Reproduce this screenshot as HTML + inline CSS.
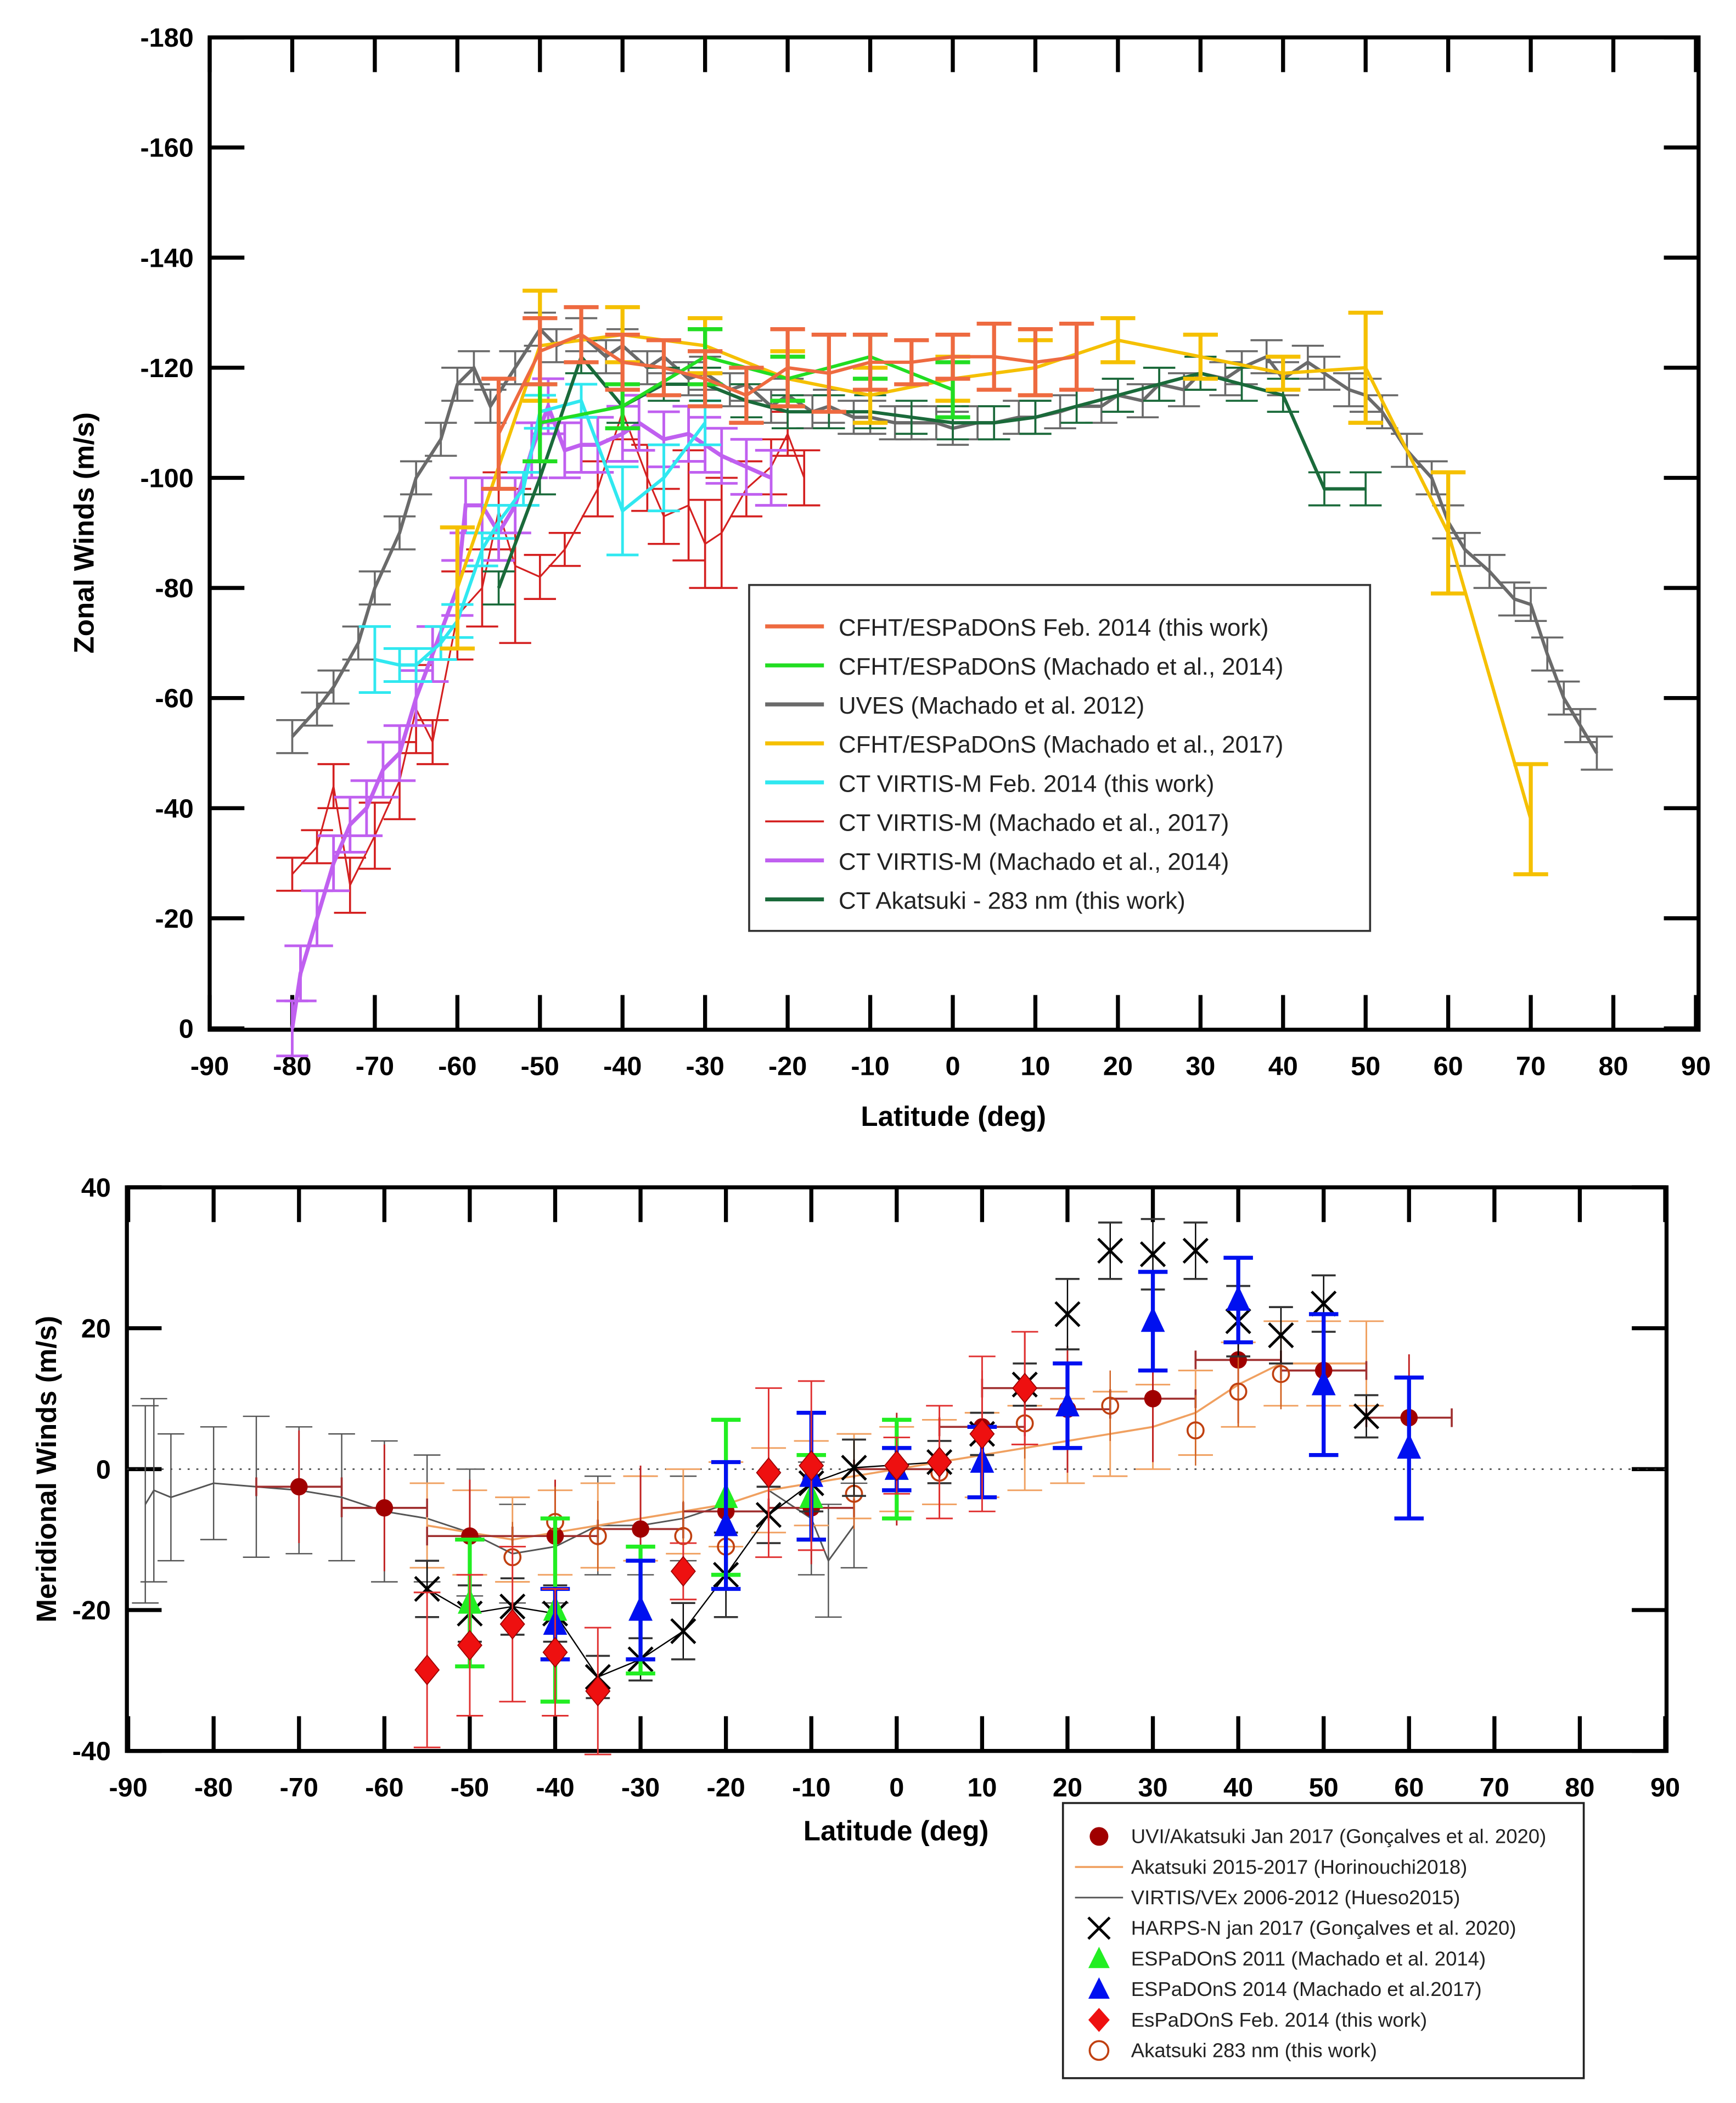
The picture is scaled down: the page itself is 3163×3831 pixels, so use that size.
<!DOCTYPE html>
<html><head><meta charset="utf-8">
<style>
html,body{margin:0;padding:0;background:#fff;}
svg{display:block;}
text{font-family:"Liberation Sans",Arial,sans-serif;}
.tk{font-weight:bold;font-size:20px;}
.ttl{font-weight:bold;font-size:21px;}
.lg{font-size:18px;}
.lg2{font-size:15px;}
</style></head>
<body>
<svg id="svg" width="3163" height="3831" viewBox="0 0 1300 1574.6" xmlns="http://www.w3.org/2000/svg">
<g id="topChart"></g>
<g id="botChart"></g>
</svg>
<script>
// ---------- TOP CHART DATA (zonal winds, m/s) ----------
const uvesLat=[-80,-77,-75,-72,-70,-67,-65,-62,-60,-58,-56,-53,-50,-48,-45,-42,-40,-37,-35,-32,-30,-27,-25,-22,-20,-17,-15,-12,-10,-7,-5,-2,0,3,5,8,10,13,15,18,20,23,25,28,30,33,35,38,40,43,45,48,50,52,55,58,60,62,65,68,70,72,74,76,78];
const uvesVal=[-53,-58,-62,-70,-80,-90,-100,-107,-117,-120,-113,-120,-127,-124,-126,-122,-124,-120,-122,-118,-119,-116,-117,-113,-115,-112,-113,-111,-111,-110,-110,-110,-109,-110,-110,-111,-111,-112,-113,-113,-115,-114,-117,-116,-119,-118,-120,-122,-118,-121,-119,-116,-115,-112,-105,-100,-92,-87,-83,-78,-77,-68,-60,-55,-50];
const cfhtLat=[-55,-50,-45,-40,-35,-30,-25,-20,-15,-10,-5,0,5,10,15];
const cfhtVal=[-108,-123,-126,-121,-120,-118,-115,-120,-119,-121,-121,-122,-122,-121,-122];
const cfhtErr=[10,6,5,5,5,5,5,7,7,5,4,4,6,6,6];
const greenLat=[-50,-40,-30,-20,-10,0];
const greenVal=[-110,-113,-122,-118,-122,-116];
const greenErr=[7,4,5,4,4,5];
const yelLat=[-60,-50,-40,-30,-20,-10,0,10,20,30,40,50,60,70];
const yelVal=[-80,-124,-126,-124,-118,-115,-118,-120,-125,-122,-119,-120,-90,-38];
const yelErr=[11,10,5,5,5,5,4,5,4,4,3,10,11,10];
const cyanLat=[-70,-67,-65,-62,-60,-57,-55,-52,-50,-45,-40,-35,-30];
const cyanVal=[-67,-66,-66,-70,-74,-87,-92,-98,-112,-114,-94,-100,-110];
const cyanErr=[6,3,3,3,3,3,3,3,3,3,8,6,4];
const redLat=[-80,-77,-75,-73,-70,-67,-65,-63,-60,-57,-55,-53,-50,-47,-43,-40,-37,-35,-32,-30,-28,-25,-22,-20,-18];
const redVal=[-28,-33,-44,-26,-35,-45,-58,-52,-75,-80,-94,-84,-82,-87,-98,-112,-100,-93,-95,-88,-90,-98,-102,-108,-100];
const redErr=[3,3,4,5,6,7,8,4,8,7,7,14,4,3,5,5,6,5,10,8,10,5,5,4,5];
const purpLat=[-80,-79,-77,-75,-73,-71,-69,-67,-65,-63,-60,-59,-57,-55,-53,-51,-49,-47,-45,-43,-40,-38,-35,-32,-30,-28,-25,-22];
const purpVal=[0,-10,-20,-30,-37,-40,-47,-50,-60,-68,-80,-95,-95,-90,-95,-105,-113,-105,-106,-106,-108,-110,-107,-108,-106,-104,-102,-100];
const akaLat=[-55,-50,-45,-40,-35,-30,-25,-20,-15,-10,-5,0,5,10,15,20,25,30,35,40,45,50];
const akaVal=[-80,-100,-122,-113,-117,-117,-114,-112,-112,-112,-111,-110,-110,-111,-113,-115,-117,-119,-117,-115,-98,-98];
const xTicksTop=[-90,-80,-70,-60,-50,-40,-30,-20,-10,0,10,20,30,40,50,60,70,80,90];
const yTicksTop=[-180,-160,-140,-120,-100,-80,-60,-40,-20,0];

// ---------- BOTTOM CHART DATA (meridional winds, m/s) ----------
const uviLat=[-70,-60,-50,-40,-30,-20,-10,0,10,15,20,30,40,50,60];
const uviVal=[-2.5,-5.5,-9.5,-9.5,-8.5,-6,-5.5,0,6,11.5,8.5,10,15.5,14,7.3];
const uviErr=[8,9,8,8,9,9,8,8,8,8,9,9,9,8,9];
const horLat=[-55,-50,-45,-40,-35,-30,-25,-20,-15,-10,-5,0,5,10,15,20,25,30,35,40,45,50,55];
const horVal=[-8,-9,-10,-9,-8,-7,-6,-5,-3,-2,-1,0,1,2,3,4,5,6,8,12,15,15,15];
const virLat=[-88,-87,-85,-80,-75,-70,-65,-60,-55,-50,-45,-40,-35,-30,-25,-20,-15,-10,-8,-5];
const virVal=[-5,-3,-4,-2,-2.5,-3,-4,-6,-7,-9,-12,-11,-8,-8,-7,-5,-3,-7,-13,-8];
const virErr=[14,13,9,8,10,9,9,10,9,9,7,8,7,7,6,6,6,8,8,6];
const harpsLat=[-55,-50,-45,-40,-35,-30,-25,-20,-15,-10,-5,5,10,15,20,25,30,35,40,45,50,55];
const harpsVal=[-17,-20.5,-19.5,-20.5,-29.5,-27,-23,-15,-6.5,-2,0.2,1,5,12,22,31,30.5,31,21,19,23.5,7.5];
const harpsErr=[4,4,4,4,3,3,4,6,4,4,4,3,3,3,5,4,5,4,5,4,4,3];
const grLat=[-50,-40,-30,-20,-10,0];
const grVal=[-19,-20,-20,-4,-4,0];
const grErr=[9,13,9,11,6,7];
const blLat=[-40,-30,-20,-10,0,10,20,30,40,50,60];
const blVal=[-22,-20,-8,-1,0,1,9,21,24,12,3];
const blErr=[5,7,9,9,3,5,6,7,6,10,10];
const diaLat=[-55,-50,-45,-40,-35,-25,-15,-10,0,5,10,15];
const diaVal=[-28.5,-25,-22,-26,-31.5,-14.5,-0.5,0.5,0.5,1,5,11.5];
const diaErr=[11,10,11,9,9,4,12,12,4,8,11,8];
const ocLat=[-45,-40,-35,-25,-20,-10,-5,0,5,15,25,35,40,45];
const ocVal=[-12.5,-7.5,-9.5,-9.5,-11,-1.5,-3.5,0.5,-0.5,6.5,9,5.5,11,13.5];
const xTicksBot=[-90,-80,-70,-60,-50,-40,-30,-20,-10,0,10,20,30,40,50,60,70,80,90];
const yTicksBot=[-40,-20,0,20,40];

const NS="http://www.w3.org/2000/svg";
function mk(parent,tag,attrs,txt){const e=document.createElementNS(NS,tag);for(const k in attrs)e.setAttribute(k,attrs[k]);if(txt!==undefined)e.textContent=txt;parent.appendChild(e);return e;}

const T={x0:157,x1:1272,y0:28,y1:771};
const tx=l=>157+(l+90)*(1113/180);
const ty=v=>770+v*(742/180);
const gTop=document.getElementById('topChart');
const gBot=document.getElementById('botChart');

function frame(g,b,xs,xt,ys,yt,tl){
  const r=mk(g,'rect',{x:b.x0,y:b.y0,width:b.x1-b.x0,height:b.y1-b.y0,fill:'none',stroke:'#000','stroke-width':3});
  
  
  xt.forEach(v=>{const x=xs(v);
    mk(g,'line',{x1:x,y1:b.y1,x2:x,y2:b.y1-tl,stroke:'#000','stroke-width':3});
    mk(g,'line',{x1:x,y1:b.y0,x2:x,y2:b.y0+tl,stroke:'#000','stroke-width':3});
    const t=mk(g,'text',{x:x,y:b.y1+34,'text-anchor':'middle',class:'tk'},String(v));
    
    
  });
  yt.forEach(v=>{const y=ys(v);
    mk(g,'line',{x1:b.x0,y1:y,x2:b.x0+tl,y2:y,stroke:'#000','stroke-width':3});
    mk(g,'line',{x1:b.x1,y1:y,x2:b.x1-tl,y2:y,stroke:'#000','stroke-width':3});
    const t=mk(g,'text',{x:b.x0-12,y:y+7,'text-anchor':'end',class:'tk'},String(v));
    
    
  });
}
frame(gTop,T,tx,xTicksTop,ty,yTicksTop,26);

function series(g,name,lat,val,err,col,w,xs,ys,cap,lw){
  const s=mk(g,'g',{});
  
  
  mk(s,'polyline',{points:lat.map((l,i)=>xs(l)+','+ys(val[i])).join(' '),fill:'none',stroke:col,'stroke-width':w});
  if(err)lat.forEach((l,i)=>{const x=xs(l),a=ys(val[i]-err[i]),b=ys(val[i]+err[i]);
    mk(s,'line',{x1:x,y1:a,x2:x,y2:b,stroke:col,'stroke-width':lw||w});
    mk(s,'line',{x1:x-cap,y1:a,x2:x+cap,y2:a,stroke:col,'stroke-width':lw||w});
    mk(s,'line',{x1:x-cap,y1:b,x2:x+cap,y2:b,stroke:col,'stroke-width':lw||w});
  });
  return s;
}
series(gTop,'series-uves',uvesLat,uvesVal,uvesLat.map(()=>3),'#6a6a6a',2.5,tx,ty,12,1.5);
series(gTop,'series-ct-virtis-2017',redLat,redVal,redErr,'#d42020',1.3,tx,ty,12,1.5);
series(gTop,'series-ct-virtis-2014',purpLat,purpVal,purpLat.map(()=>5),'#c060f0',3,tx,ty,12,2);
series(gTop,'series-ct-virtis-feb2014',cyanLat,cyanVal,cyanErr,'#30e8f0',2.5,tx,ty,12,2);
series(gTop,'series-akatsuki-283',akaLat,akaVal,akaLat.map(()=>3),'#1a6a3a',2.5,tx,ty,12,1.5);
series(gTop,'series-cfht-machado2017',yelLat,yelVal,yelErr,'#f5c000',2.5,tx,ty,13,3);
series(gTop,'series-cfht-machado2014',greenLat,greenVal,greenErr,'#22dd22',2.5,tx,ty,13,3);
series(gTop,'series-cfht-feb2014',cfhtLat,cfhtVal,cfhtErr,'#ee6a40',2.5,tx,ty,13,3);

let tt=mk(gTop,'text',{x:714,y:843,'text-anchor':'middle',class:'ttl'},'Latitude (deg)');


tt=mk(gTop,'text',{x:0,y:0,'text-anchor':'middle',class:'ttl',transform:'translate(70,399) rotate(-90)'},'Zonal Winds (m/s)');



const lgItems=[['CFHT/ESPaDOnS Feb. 2014 (this work)','#ee6a40',3],['CFHT/ESPaDOnS (Machado et al., 2014)','#22dd22',3],['UVES (Machado et al. 2012)','#6a6a6a',3],['CFHT/ESPaDOnS (Machado et al., 2017)','#f5c000',3],['CT VIRTIS-M Feb. 2014 (this work)','#30e8f0',3],['CT VIRTIS-M (Machado et al., 2017)','#d42020',1.5],['CT VIRTIS-M (Machado et al., 2014)','#c060f0',3],['CT Akatsuki - 283 nm (this work)','#1a6a3a',3]];
const lg=mk(gTop,'g',{});


mk(lg,'rect',{x:561,y:438,width:465,height:259,fill:'#fff',stroke:'#333','stroke-width':1.5});
lgItems.forEach((it,i)=>{const y=469+i*29.2;
  const e=mk(lg,'g',{});
  
  
  mk(e,'line',{x1:573,y1:y,x2:617,y2:y,stroke:it[1],'stroke-width':it[2]});
  mk(e,'text',{x:628,y:y+7,class:'lg',fill:'#222'},it[0]);
});

const B={x0:95,x1:1248,y0:889,y1:1311};
const bx=l=>96+(l+90)*(1151/180);
const by=v=>1100-v*(422/80);
frame(gBot,B,bx,xTicksBot,by,yTicksBot,26);
mk(gBot,'line',{x1:B.x0,y1:by(0),x2:B.x1,y2:by(0),stroke:'#333','stroke-width':1,'stroke-dasharray':'1.5,5'});

series(gBot,'series-virtis-vex',virLat,virVal,virErr,'#555',1.2,bx,by,10,1);
series(gBot,'series-akatsuki-horinouchi',horLat,horVal,horLat.map(()=>6),'#f0a060',1.5,bx,by,13,1.2);
(function(){const s=mk(gBot,'g',{});
  
  
  uviLat.forEach((l,i)=>{const x=bx(l),y=by(uviVal[i]);
    mk(s,'line',{x1:bx(l-5),y1:y,x2:bx(l+5),y2:y,stroke:'#a03030','stroke-width':1.5});
    mk(s,'line',{x1:bx(l+5),y1:y-7,x2:bx(l+5),y2:y+7,stroke:'#a03030','stroke-width':1.5});
    mk(s,'line',{x1:bx(l-5),y1:y-7,x2:bx(l-5),y2:y+7,stroke:'#a03030','stroke-width':1.5});
    mk(s,'line',{x1:x,y1:by(uviVal[i]-uviErr[i]),x2:x,y2:by(uviVal[i]+uviErr[i]),stroke:'#c02020','stroke-width':1.2});
    mk(s,'circle',{cx:x,cy:y,r:6.5,fill:'#a00000'});
  });})();
(function(){const s=mk(gBot,'g',{});
  
  
  ocLat.forEach((l,i)=>{const x=bx(l),y=by(ocVal[i]);
    mk(s,'line',{x1:x,y1:by(ocVal[i]-5),x2:x,y2:by(ocVal[i]+5),stroke:'#d06020','stroke-width':1});
    mk(s,'circle',{cx:x,cy:y,r:6,fill:'none',stroke:'#c04010','stroke-width':1.5});
  });})();
(function(){const s=mk(gBot,'g',{});
  
  
  mk(s,'polyline',{points:harpsLat.slice(0,12).map((l,i)=>bx(l)+','+by(harpsVal[i])).join(' '),fill:'none',stroke:'#000','stroke-width':1});
  harpsLat.forEach((l,i)=>{const x=bx(l),y=by(harpsVal[i]);
    const a=by(harpsVal[i]-harpsErr[i]),b=by(harpsVal[i]+harpsErr[i]);
    mk(s,'line',{x1:x,y1:a,x2:x,y2:b,stroke:'#000','stroke-width':1});
    mk(s,'line',{x1:x-9,y1:a,x2:x+9,y2:a,stroke:'#333','stroke-width':1.5});
    mk(s,'line',{x1:x-9,y1:b,x2:x+9,y2:b,stroke:'#333','stroke-width':1.5});
    mk(s,'path',{d:`M${x-9},${y-9}L${x+9},${y+9}M${x-9},${y+9}L${x+9},${y-9}`,stroke:'#000','stroke-width':2});
  });})();
function tri(name,lat,val,err,col){const s=mk(gBot,'g',{});
  
  
  lat.forEach((l,i)=>{const x=bx(l),y=by(val[i]);
    const a=by(val[i]-err[i]),b=by(val[i]+err[i]);
    mk(s,'line',{x1:x,y1:a,x2:x,y2:b,stroke:col,'stroke-width':3});
    mk(s,'line',{x1:x-11,y1:a,x2:x+11,y2:a,stroke:col,'stroke-width':3});
    mk(s,'line',{x1:x-11,y1:b,x2:x+11,y2:b,stroke:col,'stroke-width':3});
    mk(s,'path',{d:`M${x},${y-11}L${x+9},${y+8}L${x-9},${y+8}Z`,fill:col});
  });}
tri('series-espadons-2011',grLat,grVal,grErr,'#22ee22');
tri('series-espadons-2014',blLat,blVal,blErr,'#0010f0');
(function(){const s=mk(gBot,'g',{});
  
  
  diaLat.forEach((l,i)=>{const x=bx(l),y=by(diaVal[i]);
    const a=by(diaVal[i]-diaErr[i]),b=by(diaVal[i]+diaErr[i]);
    mk(s,'line',{x1:x,y1:a,x2:x,y2:b,stroke:'#e03030','stroke-width':1.2});
    mk(s,'line',{x1:x-10,y1:a,x2:x+10,y2:a,stroke:'#e03030','stroke-width':1.2});
    mk(s,'line',{x1:x-10,y1:b,x2:x+10,y2:b,stroke:'#e03030','stroke-width':1.2});
    mk(s,'path',{d:`M${x},${y-11}L${x+9},${y}L${x},${y+11}L${x-9},${y}Z`,fill:'#ee1010',stroke:'#900','stroke-width':0.7});
  });})();

tt=mk(gBot,'text',{x:671,y:1378,'text-anchor':'middle',class:'ttl'},'Latitude (deg)');


tt=mk(gBot,'text',{x:0,y:0,'text-anchor':'middle',class:'ttl',transform:'translate(42,1100) rotate(-90)'},'Meridional Winds (m/s)');



const lg2=mk(gBot,'g',{});


mk(lg2,'rect',{x:796,y:1350,width:390,height:206,fill:'#fff',stroke:'#222','stroke-width':1.5});
const l2=['UVI/Akatsuki Jan 2017 (Gonçalves et al. 2020)','Akatsuki 2015-2017 (Horinouchi2018)','VIRTIS/VEx 2006-2012 (Hueso2015)','HARPS-N jan 2017 (Gonçalves et al. 2020)','ESPaDOnS 2011 (Machado et al. 2014)','ESPaDOnS 2014 (Machado et al.2017)','EsPaDOnS Feb. 2014 (this work)','Akatsuki 283 nm (this work)'];
l2.forEach((s,i)=>{const y=1375+i*22.9,x=823;
  const e=mk(lg2,'g',{});
  
  
  if(i==0)mk(e,'circle',{cx:x,cy:y,r:7,fill:'#a00000'});
  if(i==1)mk(e,'line',{x1:x-18,y1:y,x2:x+18,y2:y,stroke:'#f0a060','stroke-width':1.5});
  if(i==2)mk(e,'line',{x1:x-18,y1:y,x2:x+18,y2:y,stroke:'#555','stroke-width':1.2});
  if(i==3)mk(e,'path',{d:`M${x-8},${y-8}L${x+8},${y+8}M${x-8},${y+8}L${x+8},${y-8}`,stroke:'#000','stroke-width':2});
  if(i==4||i==5)mk(e,'path',{d:`M${x},${y-9}L${x+8},${y+7}L${x-8},${y+7}Z`,fill:i==4?'#22ee22':'#0010f0'});
  if(i==6)mk(e,'path',{d:`M${x},${y-9}L${x+8},${y}L${x},${y+9}L${x-8},${y}Z`,fill:'#ee1010'});
  if(i==7)mk(e,'circle',{cx:x,cy:y,r:7,fill:'none',stroke:'#c04010','stroke-width':1.5});
  mk(e,'text',{x:847,y:y+5,class:'lg2',fill:'#222'},s);
});
</script>
</body></html>
